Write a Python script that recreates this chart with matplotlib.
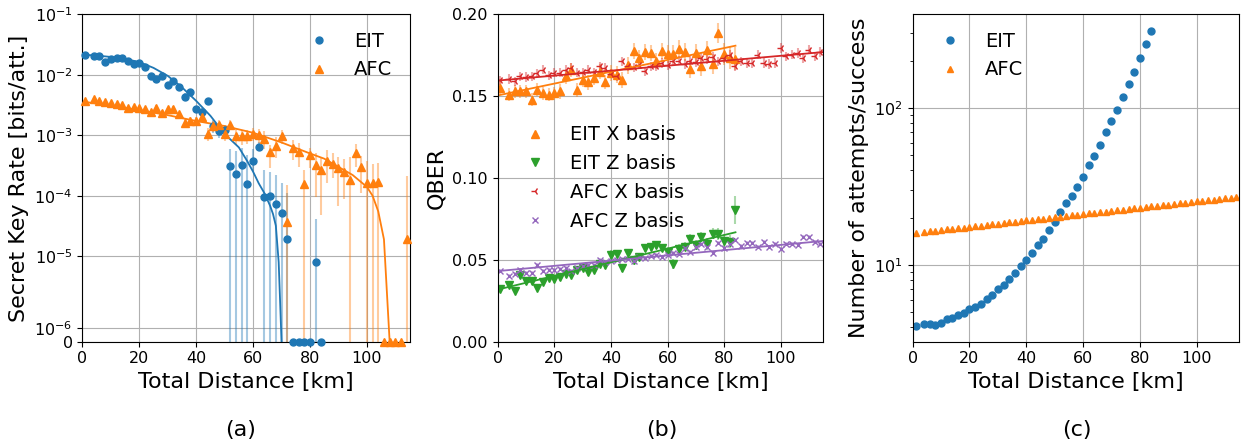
import numpy as np
import matplotlib
matplotlib.use('Agg')
import matplotlib.pyplot as plt
from matplotlib.ticker import NullLocator

# distances [km]
x_eit = [1] + list(range(4, 85, 2))
x_afc = [1] + list(range(4, 115, 2))

# (a) secret key rate
rate_eit = [0.0212, 0.0205, 0.0205, 0.0165, 0.0182, 0.0187, 0.0187, 0.0167, 0.0149, 0.0155,
            0.0133, 0.0095, 0.0085, 0.0095, 0.0068, 0.0079, 0.0062, 0.00435, 0.0051, 0.00275,
            0.00243, 0.00369, 0.00143, 0.00119, 0.00122, 3.1e-4, 2.3e-4, 3.2e-4, 1.57e-4, 3.8e-4,
            6.5e-4, 9.7e-5, 9.9e-5, 7.4e-5, 5.1e-5, 1.95e-5, 0, 0, 0, 0, 8.0e-6, 0]
rate_eit_lo = [0.0195, 0.019, 0.019, 0.0153, 0.0169, 0.0174, 0.0174, 0.0155, 0.0138, 0.0144,
               0.0123, 0.0087, 0.0077, 0.0086, 0.0061, 0.0071, 0.0055, 0.0038, 0.0045, 0.0024,
               0.0021, 0.0032, 0.0011, 0.0009, 0.00095, 0, 0, 0, 0, 2.6e-4,
               5.4e-4, 0, 0, 0, 0, 0, 0, 0, 0, 0, 0, 0]
rate_eit_hi = [0.0229, 0.022, 0.022, 0.0177, 0.0195, 0.02, 0.02, 0.0179, 0.016, 0.0166,
               0.0143, 0.0103, 0.0093, 0.0104, 0.0075, 0.0087, 0.0069, 0.0049, 0.0057, 0.0031,
               0.0028, 0.0042, 0.0018, 0.0015, 0.0015, 5.9e-4, 5.4e-4, 6.1e-4, 4.7e-4, 5.9e-4,
               7.8e-4, 2.7e-4, 2.5e-4, 2.2e-4, 1.6e-4, 1.1e-4, 0, 0, 0, 0, 4.2e-5, 0]

rate_afc = [3.73e-3, 3.98e-3, 3.73e-3, 3.55e-3, 3.38e-3, 3.29e-3, 3.17e-3, 2.83e-3, 2.9e-3, 2.79e-3,
            2.72e-3, 2.43e-3, 2.86e-3, 2.37e-3, 2.69e-3, 2.72e-3, 2.22e-3, 1.62e-3, 1.74e-3, 1.72e-3,
            1.99e-3, 1.05e-3, 1.44e-3, 1.48e-3, 1.03e-3, 1.5e-3, 9.8e-4, 9.6e-4, 9.6e-4, 1.06e-3,
            1.0e-3, 8.7e-4, 5.2e-4, 6.7e-4, 9.6e-4, 3.7e-5, 6.1e-4, 5.2e-4, 1.58e-4, 4.65e-4,
            3.2e-4, 2.7e-4, 3.8e-4, 3.4e-4, 2.87e-4, 2.47e-4, 1.8e-4, 5.1e-4, 3.0e-4, 1.65e-4,
            1.6e-4, 1.7e-4, 0, 0, 0, 0, 1.9e-5]
rate_afc_lo = [3.45e-3, 3.7e-3, 3.45e-3, 3.28e-3, 3.12e-3, 3.03e-3, 2.92e-3, 2.6e-3, 2.66e-3, 2.55e-3,
               2.48e-3, 2.2e-3, 2.6e-3, 2.14e-3, 2.42e-3, 2.44e-3, 1.98e-3, 1.35e-3, 1.45e-3, 1.42e-3,
               1.65e-3, 8.0e-4, 1.15e-3, 1.2e-3, 8.0e-4, 1.2e-3, 7.0e-4, 7.0e-4, 7.2e-4, 8.0e-4,
               7.5e-4, 6.0e-4, 2.85e-4, 4.2e-4, 7.2e-4, 0, 3.9e-4, 3.0e-4, 0, 2.85e-4,
               9.7e-5, 4.8e-5, 1.6e-4, 2.0e-4, 6.8e-5, 9e-5, 0, 3.0e-4, 1.1e-4, 0,
               0, 0, 0, 0, 0, 0, 0]
rate_afc_hi = [4.0e-3, 4.27e-3, 4.0e-3, 3.82e-3, 3.64e-3, 3.55e-3, 3.42e-3, 3.06e-3, 3.14e-3, 3.03e-3,
               2.96e-3, 2.66e-3, 3.12e-3, 2.6e-3, 2.96e-3, 3.0e-3, 2.46e-3, 1.9e-3, 2.03e-3, 2.02e-3,
               2.33e-3, 1.3e-3, 1.73e-3, 1.76e-3, 1.3e-3, 1.8e-3, 1.26e-3, 1.22e-3, 1.2e-3, 1.3e-3,
               1.25e-3, 1.16e-3, 6.9e-4, 9.4e-4, 1.22e-3, 1.5e-4, 8.4e-4, 7.4e-4, 2.67e-4, 6.1e-4,
               5.0e-4, 4.4e-4, 5.7e-4, 5.0e-4, 4.4e-4, 4.0e-4, 4.4e-4, 7.2e-4, 4.6e-4, 3.7e-4,
               3.3e-4, 3.5e-4, 0, 0, 0, 0, 2.1e-4]

# fitted curves in (a)
fit_eit_x = [0, 5, 10, 15, 20, 25, 30, 35, 40, 45, 50, 55, 58, 60, 62, 64, 66, 67, 68, 69, 69.5, 70]
fit_eit_y = [0.0215, 0.0208, 0.0197, 0.0183, 0.0162, 0.0130, 0.0096, 0.0062, 0.0037, 0.0021,
             0.00105, 6.3e-4, 3.7e-4, 2.5e-4, 1.6e-4, 1.1e-4, 6.8e-5, 5.0e-5, 3.2e-5, 8e-6, 3e-6, 0]
fit_afc_x = [0, 10, 20, 30, 40, 50, 60, 70, 80, 85, 90, 95, 100, 102, 104, 106, 108]
fit_afc_y = [3.6e-3, 3.1e-3, 2.6e-3, 2.15e-3, 1.72e-3, 1.42e-3, 1.1e-3, 7.6e-4, 5.0e-4, 4.1e-4,
             3.0e-4, 2.2e-4, 1.4e-4, 1.0e-4, 5.5e-5, 1.9e-5, 0]

# (b) QBER
qber_eit_x = [0.1551, 0.1508, 0.1530, 0.1530, 0.1530, 0.1478, 0.1540, 0.1516, 0.1508, 0.1516,
              0.1530, 0.1620, 0.1660, 0.1538, 0.1600, 0.1585, 0.1611, 0.1650, 0.1587, 0.1642,
              0.1632, 0.1600, 0.1688, 0.1777, 0.1733, 0.1769, 0.1763, 0.1713, 0.1777, 0.1757,
              0.1757, 0.1789, 0.1767, 0.1668, 0.1763, 0.1682, 0.1779, 0.1696, 0.1885, 0.1757,
              0.1733, 0.1727]
qber_eit_x_err = [0.004, 0.004, 0.004, 0.004, 0.004, 0.004, 0.004, 0.004, 0.004, 0.004,
                  0.0045, 0.0045, 0.0045, 0.0045, 0.0045, 0.0045, 0.0045, 0.0045, 0.0045, 0.005,
                  0.005, 0.005, 0.005, 0.005, 0.005, 0.005, 0.005, 0.005, 0.005, 0.0055,
                  0.0055, 0.0055, 0.0055, 0.0055, 0.0055, 0.006, 0.006, 0.006, 0.006, 0.0065,
                  0.0065, 0.007]
qber_eit_z = [0.0324, 0.0348, 0.0308, 0.0405, 0.0368, 0.0368, 0.0330, 0.0364, 0.0390, 0.0380,
              0.0392, 0.0412, 0.0410, 0.0435, 0.0451, 0.0425, 0.0440, 0.0475, 0.0468, 0.0532,
              0.0535, 0.0450, 0.0540, 0.0496, 0.0516, 0.0570, 0.0577, 0.0590, 0.0571, 0.0547,
              0.0476, 0.0567, 0.0581, 0.0630, 0.0591, 0.0640, 0.0597, 0.0660, 0.0658, 0.0617,
              0.0611, 0.0804]
qber_eit_z_err = [0.002, 0.002, 0.002, 0.002, 0.002, 0.002, 0.002, 0.002, 0.002, 0.002,
                  0.0022, 0.0022, 0.0022, 0.0022, 0.0022, 0.0022, 0.0022, 0.0022, 0.0022, 0.0025,
                  0.0025, 0.0025, 0.0025, 0.0025, 0.0025, 0.0025, 0.0025, 0.0025, 0.0025, 0.003,
                  0.003, 0.003, 0.003, 0.003, 0.003, 0.003, 0.0035, 0.0035, 0.0035, 0.004,
                  0.004, 0.0085]
qber_afc_x = [0.1597, 0.1605, 0.1591, 0.1621, 0.1617, 0.1621, 0.1640, 0.1662, 0.1626, 0.1642,
              0.1642, 0.1662, 0.1672, 0.1642, 0.1646, 0.1662, 0.1646, 0.1682, 0.1672, 0.1636,
              0.1621, 0.1713, 0.1682, 0.1676, 0.1692, 0.1652, 0.1682, 0.1682, 0.1702, 0.1688,
              0.1713, 0.1717, 0.1696, 0.1717, 0.1708, 0.1733, 0.1727, 0.1739, 0.1713, 0.1733,
              0.1753, 0.1682, 0.1713, 0.1702, 0.1702, 0.1753, 0.1702, 0.1696, 0.1702, 0.1794,
              0.1743, 0.1753, 0.1763, 0.1733, 0.1783, 0.1743, 0.1769]
qber_afc_x_err = 0.0028
qber_afc_z = [0.0431, 0.0399, 0.0415, 0.0435, 0.0421, 0.0421, 0.0468, 0.0429, 0.0435, 0.0435,
              0.0445, 0.0451, 0.0431, 0.0451, 0.0460, 0.0466, 0.0466, 0.0500, 0.0486, 0.0492,
              0.0496, 0.0506, 0.0504, 0.0490, 0.0516, 0.0512, 0.0526, 0.0532, 0.0516, 0.0532,
              0.0540, 0.0536, 0.0573, 0.0547, 0.0581, 0.0597, 0.0577, 0.0540, 0.0601, 0.0573,
              0.0597, 0.0621, 0.0587, 0.0601, 0.0601, 0.0577, 0.0611, 0.0581, 0.0597, 0.0567,
              0.0597, 0.0597, 0.0591, 0.0638, 0.0642, 0.0611, 0.0597]
qber_afc_z_err = 0.0012

# linear fits in (b), end points
fit_x_eit = [0, 84]
fit_x_afc = [0, 115]
fit_eit_x_basis = [0.1504, 0.1808]
fit_eit_z_basis = [0.0318, 0.0668]
fit_afc_x_basis = [0.1595, 0.1769]
fit_afc_z_basis = [0.0431, 0.0615]

# (c) attempts per success
att_eit = [4.09, 4.2, 4.2, 4.17, 4.3, 4.52, 4.6, 4.83, 4.93, 5.25,
           5.43, 5.67, 6.1, 6.4, 7.0, 7.5, 8.2, 8.9, 9.8, 10.7,
           12.0, 13.4, 14.6, 16.6, 18.8, 21.6, 24.7, 27.4, 31.5, 36.5,
           43.1, 49.4, 57.7, 70.0, 82.9, 97.7, 117.5, 141.5, 170.6, 209.0,
           255.0, 307.6]
att_afc = [16.0, 16.2, 16.4, 16.5, 16.7, 16.9, 17.0, 17.2, 17.3, 17.5,
           17.7, 17.8, 18.0, 18.2, 18.3, 18.5, 18.7, 18.8, 19.0, 19.2,
           19.4, 19.6, 19.7, 19.9, 20.1, 20.3, 20.5, 20.7, 20.9, 21.1,
           21.3, 21.5, 21.7, 21.9, 22.1, 22.3, 22.5, 22.7, 22.9, 23.1,
           23.4, 23.6, 23.8, 24.0, 24.2, 24.5, 24.7, 24.9, 25.2, 25.4,
           25.6, 25.9, 26.1, 26.4, 26.6, 26.9, 27.1]

LABEL = 16
TICK = 11.5
LEG = 14

fig = plt.figure(figsize=(12.46, 4.46), dpi=100)
ax1 = fig.add_axes([0.0661, 0.234, 0.2626, 0.734])
ax2 = fig.add_axes([0.3994, 0.234, 0.2613, 0.734])
ax3 = fig.add_axes([0.7325, 0.234, 0.2621, 0.734])

# ---- (a)
v = np.array(rate_eit)
ax1.errorbar(x_eit, v, yerr=[v - np.array(rate_eit_lo), np.clip(np.array(rate_eit_hi) - v, 0, None)],
             fmt='none', ecolor='C0', alpha=0.4, elinewidth=1.5)
v = np.array(rate_afc)
ax1.errorbar(x_afc, v, yerr=[v - np.array(rate_afc_lo), np.clip(np.array(rate_afc_hi) - v, 0, None)],
             fmt='none', ecolor='C1', alpha=0.4, elinewidth=1.5)
ax1.plot(x_eit, rate_eit, 'o', color='C0', ms=5, label='EIT', clip_on=False, zorder=3)
ax1.plot(x_afc, rate_afc, '^', color='C1', ms=5.5, label='AFC', clip_on=False, zorder=3)
ax1.plot(fit_eit_x, fit_eit_y, '-', color='C0', lw=1.3)
ax1.plot(fit_afc_x, fit_afc_y, '-', color='C1', lw=1.3)
ax1.set_yscale('symlog', linthresh=5e-6, linscale=1)
ax1.set_ylim(0, 0.1)
ax1.set_xlim(0, 115)
ax1.set_yticks([0, 1e-6, 1e-5, 1e-4, 1e-3, 1e-2, 1e-1],
               ['0', '$10^{-6}$', '$10^{-5}$', '$10^{-4}$', '$10^{-3}$', '$10^{-2}$', '$10^{-1}$'])
ax1.yaxis.set_minor_locator(NullLocator())
ax1.set_xticks([0, 20, 40, 60, 80, 100])
ax1.grid(True)
ax1.set_xlabel('Total Distance [km]', fontsize=LABEL)
ax1.set_ylabel('Secret Key Rate [bits/att.]', fontsize=LABEL)
ax1.legend(loc='upper right', frameon=False, fontsize=LEG)

# ---- (b)
ax2.errorbar(x_eit, qber_eit_x, yerr=qber_eit_x_err, fmt='none', ecolor='C1', alpha=0.4, elinewidth=1.5)
ax2.errorbar(x_eit, qber_eit_z, yerr=qber_eit_z_err, fmt='none', ecolor='C2', alpha=0.4, elinewidth=1.5)
ax2.errorbar(x_afc, qber_afc_x, yerr=qber_afc_x_err, fmt='none', ecolor='C3', alpha=0.4, elinewidth=1.5)
ax2.errorbar(x_afc, qber_afc_z, yerr=qber_afc_z_err, fmt='none', ecolor='C4', alpha=0.4, elinewidth=1.5)
ax2.plot(x_eit, qber_eit_x, '^', color='C1', ms=5.5, label='EIT X basis')
ax2.plot(x_eit, qber_eit_z, 'v', color='C2', ms=5.5, label='EIT Z basis')
ax2.plot(x_afc, qber_afc_x, '3', color='C3', ms=6, mew=1, label='AFC X basis')
ax2.plot(x_afc, qber_afc_z, 'x', color='C4', ms=5, mew=1, label='AFC Z basis')
ax2.plot(fit_x_eit, fit_eit_x_basis, '-', color='C1', lw=1.3)
ax2.plot(fit_x_eit, fit_eit_z_basis, '-', color='C2', lw=1.3)
ax2.plot(fit_x_afc, fit_afc_x_basis, '-', color='C3', lw=1.3)
ax2.plot(fit_x_afc, fit_afc_z_basis, '-', color='C4', lw=1.3)
ax2.set_xlim(0, 115)
ax2.set_ylim(0, 0.2)
ax2.set_yticks([0, 0.05, 0.10, 0.15, 0.20], ['0.00', '0.05', '0.10', '0.15', '0.20'])
ax2.set_xticks([0, 20, 40, 60, 80, 100])
ax2.grid(True)
ax2.set_xlabel('Total Distance [km]', fontsize=LABEL)
ax2.set_ylabel('QBER', fontsize=LABEL)
ax2.legend(loc='center left', frameon=False, fontsize=LEG)

# ---- (c)
ax3.plot(x_eit, att_eit, 'o', color='C0', ms=5, label='EIT')
ax3.plot(x_afc, att_afc, '^', color='C1', ms=5, label='AFC')
ax3.set_yscale('log')
ax3.set_xlim(0, 115)
ax3.set_ylim(3.25, 395)
ax3.set_xticks([0, 20, 40, 60, 80, 100])
ax3.grid(True)
ax3.set_xlabel('Total Distance [km]', fontsize=LABEL)
ax3.set_ylabel('Number of attempts/success', fontsize=LABEL)
ax3.legend(loc='upper left', frameon=False, fontsize=LEG)

for ax in (ax1, ax2, ax3):
    ax.tick_params(labelsize=TICK)

fig.text(0.193, 0.036, '(a)', ha='center', va='center', fontsize=16)
fig.text(0.531, 0.036, '(b)', ha='center', va='center', fontsize=16)
fig.text(0.864, 0.036, '(c)', ha='center', va='center', fontsize=16)

fig.savefig('out.png', dpi=100)
